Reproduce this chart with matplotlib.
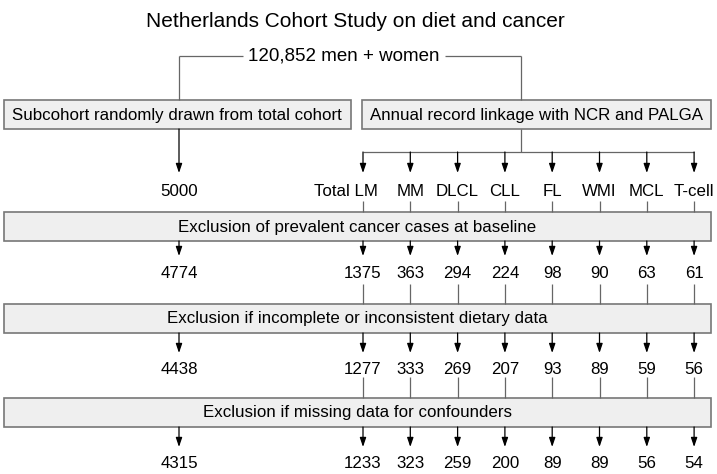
import matplotlib.pyplot as plt
from matplotlib.patches import Rectangle

plt.rcParams['font.family'] = ['Liberation Sans', 'DejaVu Sans']

# Chart content
title = 'Netherlands Cohort Study on diet and cancer'
cohort_label = '120,852 men + women'
branch_labels = ['Subcohort randomly drawn from total cohort',
                 'Annual record linkage with NCR and PALGA']
categories = ['Total LM', 'MM', 'DLCL', 'CLL', 'FL', 'WMI', 'MCL', 'T-cell']
steps = ['Exclusion of prevalent cancer cases at baseline',
         'Exclusion if incomplete or inconsistent dietary data',
         'Exclusion if missing data for confounders']
subcohort_n = [5000, 4774, 4438, 4315]
after_prevalent = [1375, 363, 294, 224, 98, 90, 63, 61]
after_dietary = [1277, 333, 269, 207, 93, 89, 59, 56]
after_confounders = [1233, 323, 259, 200, 89, 89, 56, 54]
case_counts = [after_prevalent, after_dietary, after_confounders]

# Layout (pixel space)
W, H = 717, 474
box_fill = '#efefef'
box_edge = '#777777'
line_col = '#666666'
fs = 12.2

fig = plt.figure(figsize=(W / 100, H / 100), dpi=100)
ax = fig.add_axes([0, 0, 1, 1])
ax.set_xlim(0, W)
ax.set_ylim(H, 0)
ax.axis('off')

left_x = 179
col_x = [363 + 47.3 * i for i in range(len(categories))]
link_x = 521


def box(x0, x1, y0, y1, text, tx=None):
    ax.add_patch(Rectangle((x0, y0), x1 - x0, y1 - y0, facecolor=box_fill,
                           edgecolor=box_edge, lw=1.2))
    ax.text((x0 + x1) / 2 if tx is None else tx, (y0 + y1) / 2 + 0.5, text,
            ha='center', va='center', fontsize=fs, color='black')


def line(xs, ys):
    ax.plot(xs, ys, color=line_col, lw=0.9, solid_capstyle='butt')


def arrow(x, y0, y1):
    ax.annotate('', xy=(x, y1), xytext=(x, y0),
                arrowprops=dict(arrowstyle='-|>,head_length=0.5,head_width=0.17',
                                color='black', lw=0.9, shrinkA=0, shrinkB=0,
                                mutation_scale=11))


# Title and cohort
ax.text(355, 21, title, ha='center', va='center', fontsize=15)
ax.text(344, 56, cohort_label, ha='center', va='center', fontsize=13.5)
line([left_x, 243], [56, 56])
line([left_x, left_x], [56, 100])
line([445, link_x], [56, 56])
line([link_x, link_x], [56, 100])

# Branch boxes
box(4, 351, 100, 129, branch_labels[0], tx=177)
box(362, 711, 100, 129, branch_labels[1])

# Subcohort arrow and start count
arrow(left_x, 129, 173)
ax.text(left_x, 192, str(subcohort_n[0]), ha='center', va='center', fontsize=fs)

# Linkage split into categories
line([link_x, link_x], [129, 152])
line([col_x[0], col_x[-1]], [152, 152])
for i, (x, cat) in enumerate(zip(col_x, categories)):
    arrow(x, 152, 173)
    if i == 0:
        ax.text(x + 15, 192, cat, ha='right', va='center', fontsize=fs)
    else:
        ax.text(x, 192, cat, ha='center', va='center', fontsize=fs)

# Exclusion steps
box_tops = [212, 304, 398]
label_y = [192, 275, 368]
for k, (step, counts) in enumerate(zip(steps, case_counts)):
    top = box_tops[k]
    bot = top + 29
    for x in col_x:
        line([x, x], [label_y[k] + 9, top])
    box(4, 711, top, bot, step)
    tip = bot + 15 if k == 0 else bot + 20
    ny = bot + 33 if k == 0 else bot + 36
    arrow(left_x, bot, tip)
    ax.text(left_x, ny, str(subcohort_n[k + 1]), ha='center', va='center', fontsize=fs)
    for x, n in zip(col_x, counts):
        arrow(x, bot, tip)
        ax.text(x, ny, str(n), ha='center', va='center', fontsize=fs)

fig.savefig('out.png', dpi=100)
